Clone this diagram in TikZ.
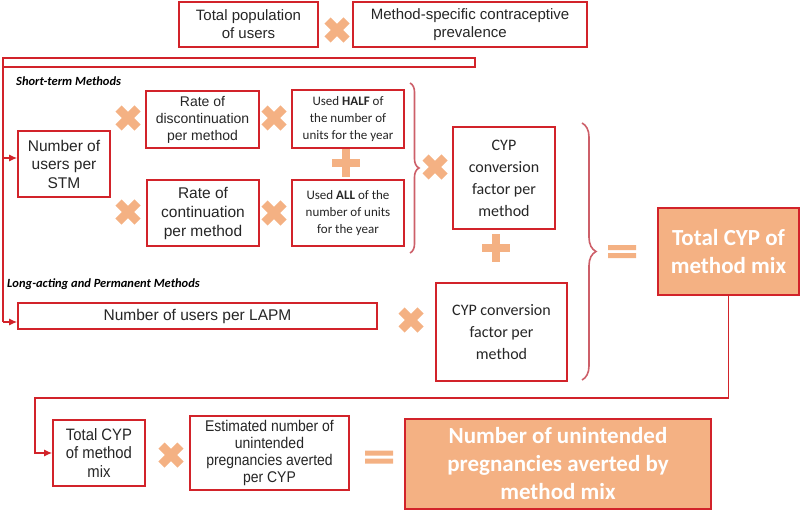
\documentclass[tikz,border=0pt]{standalone}
\usepackage{fontspec}
\setmainfont{Liberation Sans}
\newfontfamily\calfont{Carlito}
\newfontfamily\narrowfont{Liberation Sans}[FakeStretch=0.9]
\usetikzlibrary{arrows.meta,decorations.pathreplacing}
\definecolor{boxred}{RGB}{210,35,42}
\definecolor{bracered}{RGB}{205,95,105}
\definecolor{orng}{RGB}{244,177,131}
\definecolor{txt}{RGB}{38,38,38}
\tikzset{
 fbox/.style={draw=boxred, line width=1.6pt, fill=white, align=center, inner sep=0pt, text=txt},
 obox/.style={fbox, fill=orng, text=white, font=\calfont\bfseries\fontsize{23}{28}\selectfont},
 lbl/.style={anchor=west, inner sep=0pt, font=\calfont\bfseries\itshape\fontsize{12.5}{14}\selectfont, text=black},
 link/.style={draw=boxred, line width=1.3pt},
 arr/.style={link, -{Latex[length=8pt,width=7pt]}},
 bracey/.style={draw=bracered, line width=1.6pt, decorate},
 timesmark/.pic={\draw[orng, line width=8.5pt] (-9.5,-9.5)--(9.5,9.5) (-9.5,9.5)--(9.5,-9.5);},
 plusmark/.pic={\draw[orng, line width=8.5pt] (-14,0)--(14,0) (0,-14)--(0,14);},
 eqmark/.pic={\fill[orng] (-14,-6.5) rectangle (14,-1.5) (-14,1.5) rectangle (14,6.5);},
}
\begin{document}
\begin{tikzpicture}[x=1pt,y=-1pt]
\useasboundingbox (0,0) rectangle (800,511);
% top row
\node[fbox, minimum width=139pt, minimum height=45pt, font=\fontsize{15}{18}\selectfont] (pop) at (248.5,24.5) {Total population\\of users};
\node[fbox, minimum width=234pt, minimum height=45pt, font=\fontsize{15}{18}\selectfont] (prev) at (470,24.5) {Method-specific contraceptive\\prevalence};
\pic at (337,30) {timesmark};
% bar and spine
\draw[link] (3,58) rectangle (475,67);
\coordinate (s0) at (3,67);
\coordinate (j1) at (3,158);
\coordinate (j2) at (3,322);
\draw[link] (s0) -- (j2);
% labels
\node[lbl] (stlbl) at (16,81) {Short-term Methods};
\node[lbl] (lalbl) at (7,284) {Long-acting and Permanent Methods};
% STM part
\node[fbox, minimum width=92pt, minimum height=66pt, font=\fontsize{15.5}{18.5}\selectfont] (stm) at (64,164) {Number of\\users per\\STM};
\node[fbox, minimum width=113pt, minimum height=57pt, font=\fontsize{14}{17}\selectfont] (disc) at (202.5,119.5) {Rate of\\discontinuation\\per method};
\node[fbox, minimum width=112pt, minimum height=66pt, font=\fontsize{15.5}{19}\selectfont] (cont) at (203,213) {Rate of\\continuation\\per method};
\node[fbox, minimum width=112pt, minimum height=58pt, font=\calfont\fontsize{13}{17}\selectfont] (half) at (348,119) {Used \textbf{HALF} of\\the number of\\units for the year};
\node[fbox, minimum width=112pt, minimum height=66pt, font=\calfont\fontsize{13}{17}\selectfont] (all) at (348,213) {Used \textbf{ALL} of the\\number of units\\for the year};
\node[fbox, minimum width=102pt, minimum height=102pt, font=\calfont\fontsize{16}{22}\selectfont] (cyp1) at (504,178) {CYP\\conversion\\factor per\\method};
\pic at (128,118) {timesmark};
\pic at (128,212) {timesmark};
\pic at (274,118) {timesmark};
\pic at (274,213) {timesmark};
\pic at (346,163) {plusmark};
\pic at (435,167) {timesmark};
\draw[bracey, decoration={brace, amplitude=9pt}] (410,83) -- (410,253);
% LAPM part
\node[fbox, minimum width=359pt, minimum height=26pt, font=\fontsize{15.5}{18}\selectfont] (lapm) at (197.5,316) {Number of users per LAPM};
\node[fbox, minimum width=131pt, minimum height=98pt, font=\calfont\fontsize{16}{22}\selectfont] (cyp2) at (501.5,332) {CYP conversion\\factor per\\method};
\pic at (411,320) {timesmark};
\pic at (496,248) {plusmark};
\draw[bracey, decoration={brace, amplitude=14pt}] (582,123) -- (582,380);
\pic at (622,251.5) {eqmark};
\node[obox, minimum width=141pt, minimum height=87pt] (total) at (728.5,251.5) {Total CYP of\\method mix};
% arrows from spine
\draw[arr] (j1) -- (j1 -| stm.west);
\draw[arr] (j2) -- (j2 -| lapm.west);
% bottom row
\node[fbox, minimum width=92pt, minimum height=66pt, font=\narrowfont\fontsize{16.5}{18.5}\selectfont] (total2) at (99,453) {Total CYP\\of method\\mix};
\node[fbox, minimum width=159pt, minimum height=74pt, font=\narrowfont\fontsize{15.5}{16.7}\selectfont] (est) at (269.5,453) {Estimated number of\\unintended\\pregnancies averted\\per CYP};
\node[obox, minimum width=306pt, minimum height=90pt] (preg) at (558,464) {Number of unintended\\pregnancies averted by\\method mix};
\pic at (171,455) {timesmark};
\pic at (379,457) {eqmark};
\coordinate (k1) at (35,398);
\coordinate (k2) at (35,453);
\draw[arr] (total.south) |- (k1) -- (k2) -- (k2 -| total2.west);
\end{tikzpicture}
\end{document}
